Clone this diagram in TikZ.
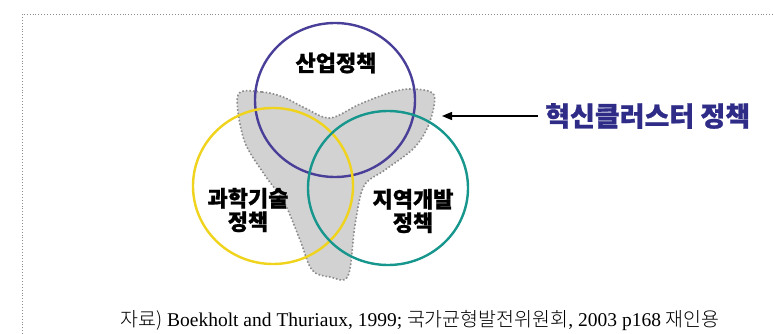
\documentclass[tikz,border=0pt]{standalone}
\usepackage{fontspec}
\usetikzlibrary{arrows.meta}
\setmainfont{Liberation Serif}
\newfontfamily\kr{Noto Sans CJK KR}[BoldFeatures={FakeBold=0.9}]
\newfontfamily\krl{Noto Sans CJK KR Light}
\definecolor{cPurple}{HTML}{4A3F98}
\definecolor{cYellow}{HTML}{EFD31C}
\definecolor{cTeal}{HTML}{16968C}
\definecolor{cNavy}{HTML}{2E2C86}
\definecolor{cShape}{HTML}{D2D2D2}
\definecolor{cDot}{HTML}{8C8C8C}
\tikzset{
  ring/.style={line width=2.4pt},
  lbl/.style={font=\kr\bfseries\fontsize{22}{23.5}\selectfont, align=center, inner sep=0pt},
}
\begin{document}
\begin{tikzpicture}[x=1pt,y=-1pt]
\useasboundingbox (0,0) rectangle (773,334);
% frame
\draw[cDot, dotted, line width=0.9pt] (22,334) -- (22,14) -- (773,14);
% gray shape
\draw[cDot, fill=cShape, dotted, line width=1.6pt] plot[smooth cycle, tension=0.55] coordinates {
 (238,95) (262,92) (283,97) (305,108) (330,118) (360,104) (392,92) (413,89) (434,95)
 (429,124) (414,148) (385,170) (364,186) (355,225) (348,276) (330,277) (312,270)
 (300,240) (284,202) (264,174) (244,140)};
% circles
\draw[cPurple, ring] (335,100) ellipse [x radius=80, y radius=77];
\draw[cYellow, ring] (273,186) ellipse [x radius=80, y radius=78];
\draw[cTeal, ring] (388,188) ellipse [x radius=80, y radius=77];
% labels
\node[lbl] (ind) at (336,63) {산업정책};
\node[lbl] (sci) at (248,210) {과학기술\\정책};
\node[lbl] (reg) at (413,211) {지역개발\\정책};
\node[lbl, text=cNavy, anchor=west, font=\kr\bfseries\fontsize{27}{29}\selectfont] (cl) at (545,116) {혁신클러스터 정책};
\coordinate (tip) at (442,116);
\draw[line width=1.4pt, -{Triangle[length=10pt,width=8pt]}] ([xshift=-7pt]cl.west) -- (tip);
% source
\node[inner sep=0pt] (src) at (420,320) {\fontsize{19.5}{21}\selectfont{\krl 자료)} Boekholt and Thuriaux, 1999; {\krl 국가균형발전위원회}, 2003 p168 {\krl 재인용}};
\end{tikzpicture}
\end{document}
